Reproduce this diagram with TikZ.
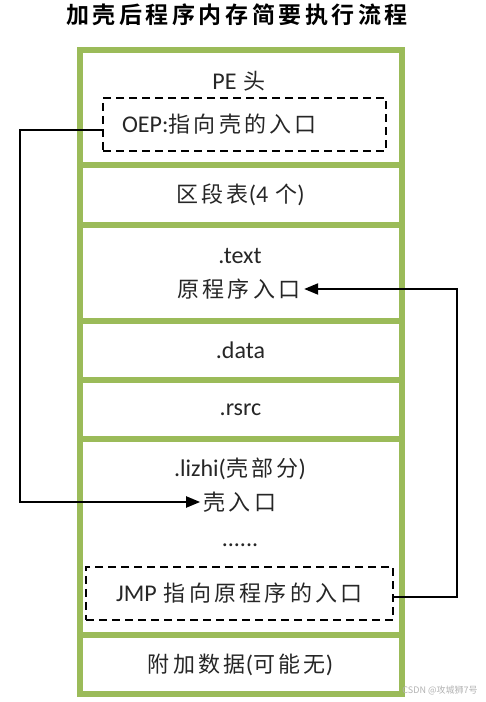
\documentclass[tikz,border=0pt]{standalone}
\usepackage{fontspec}
\setmainfont{Carlito}
\newfontfamily\cjk[LetterSpace=15]{Noto Sans CJK SC}
\newfontfamily\cjktitle{Noto Sans CJK SC Bold}
\newfontfamily\cjkmark{Noto Sans CJK SC}
\usetikzlibrary{positioning, arrows.meta}

\definecolor{framegreen}{RGB}{155,187,89}
\newcommand{\zh}[1]{{\fontsize{22}{26}\cjk #1}}
\newcommand{\gap}{\hspace{7pt}}

\begin{document}
\begin{tikzpicture}[
        x=1pt, y=1pt,
        node distance=0pt,
        cell/.style={rectangle, draw=framegreen, line width=6pt, outer sep=0pt, minimum width=322pt, font=\fontsize{24}{28}\selectfont, text=black!85},
        txt/.style={font=\fontsize{24}{28}\selectfont, text=black!85},
        dashbox/.style={rectangle, draw=black, line width=2.2pt, dash pattern=on 8pt off 5pt, minimum height=53pt, font=\fontsize{24}{28}\selectfont, text=black!85},
        link/.style={-{Triangle[length=14pt, width=11pt]}, line width=2pt, black},
    ]
        \useasboundingbox (0,0) rectangle (485,702);

        % Title
        \node[font=\cjktitle\fontsize{23}{27}\selectfont] (title) at (237,687) {\makebox[342pt][s]{加\hfil 壳\hfil 后\hfil 程\hfil 序\hfil 内\hfil 存\hfil 简\hfil 要\hfil 执\hfil 行\hfil 流\hfil 程}};

        % Memory layout
        \node[cell, minimum height=114.5pt] (pe) at (240.5,594.25) {};
        \node[cell, minimum height=60pt, below=of pe] (sect) {\zh{区段表}(4\gap\zh{个})};
        \node[cell, minimum height=96pt, below=of sect] (text) {};
        \node[cell, minimum height=59pt, below=of text] (data) {.data};
        \node[cell, minimum height=59pt, below=of data] (rsrc) {.rsrc};
        \node[cell, minimum height=196pt, below=of rsrc] (lizhi) {};
        \node[cell, minimum height=59pt, below=of lizhi] (extra) {\zh{附加数据}(\zh{可能无})};

        % PE header
        \node[txt] (pehead) at (239,621) {PE\gap\zh{头}};
        \node[dashbox, text width=245pt, inner xsep=19pt, align=left] (oep) at (244.5,577.5) {OEP:\zh{指向壳的入口}};

        % .text
        \node[txt] (textname) at (240,446) {.text};
        \node[txt] (orig) at (239,413) {\zh{原程序入口}};

        % .lizhi
        \node[txt] (lizhiname) at (240,233) {.lizhi(\zh{壳部分})};
        \node[txt] (shell) at (240,200) {\zh{壳入口}};
        \node[txt] (dots) at (240,157) {......};
        \node[dashbox, minimum width=307pt] (jmp) at (239.5,108.5) {JMP\gap\zh{指向原程序的入口}};

        % Jumps
        \draw[link] ([yshift=-5.5pt]oep.west) -- ++(-82,0) |- (shell.west);
        \draw[link] ([yshift=-3.5pt]jmp.east) -- ++(63,0) |- (orig.east);

        \node[font=\fontsize{9}{11}\cjkmark, text=black!30] (mark) at (440,12) {CSDN @攻城狮7号};
\end{tikzpicture}
\end{document}
